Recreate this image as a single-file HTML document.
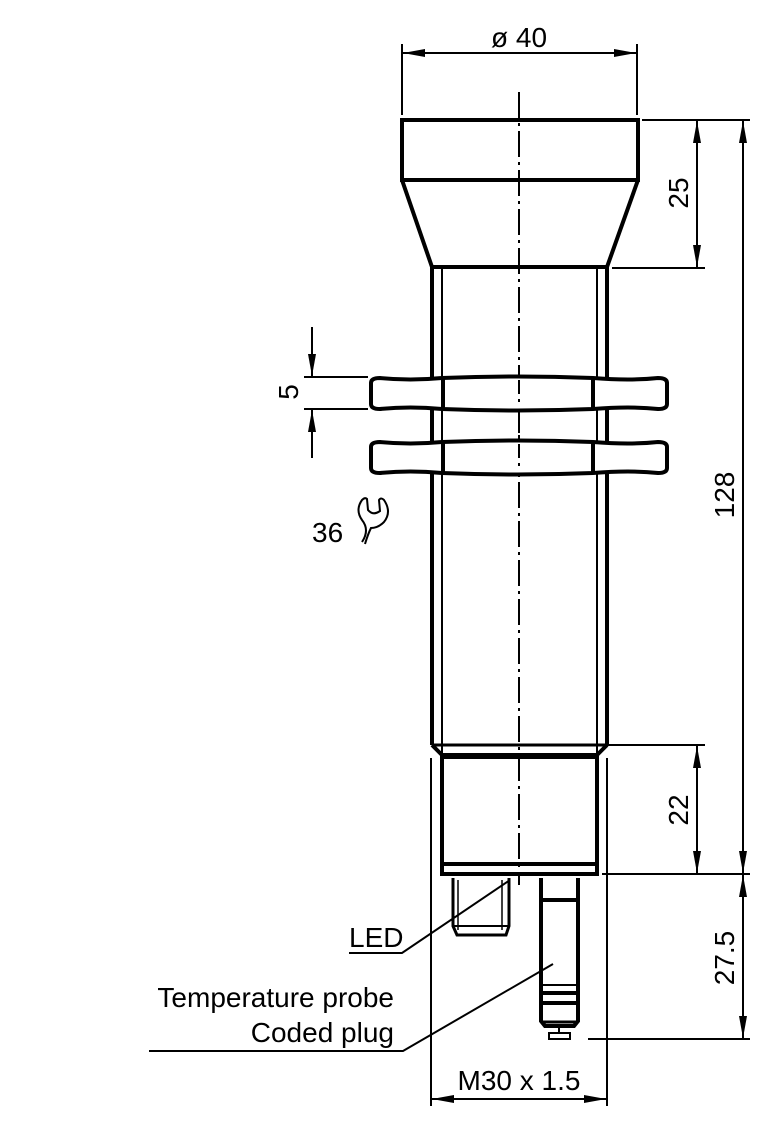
<!DOCTYPE html>
<html><head><style>html,body{margin:0;padding:0;background:#fff;}svg{display:block}text{font-family:"Liberation Sans",Arial,sans-serif;fill:#000}</style></head>
<body>
<svg width="780" height="1134" viewBox="0 0 780 1134" xmlns="http://www.w3.org/2000/svg">
<defs>
<marker id="a" viewBox="0 0 22 8" refX="22" refY="4" markerWidth="22" markerHeight="8" markerUnits="userSpaceOnUse" orient="auto-start-reverse"><path d="M0,0 L22,4 L0,8 Z" fill="#000"/></marker>
</defs>
<g stroke="#000" fill="none">
<line x1="519" y1="92" x2="519" y2="885" stroke-width="2" stroke-dasharray="26,5,3,5"/>
<rect x="402" y="120" width="236" height="60" stroke-width="4"/>
<path d="M402,180 L432,267 M638,180 L607,267" stroke-width="4"/>
<line x1="432" y1="267" x2="607" y2="267" stroke-width="4"/>
<line x1="432" y1="267" x2="432" y2="745" stroke-width="4"/>
<line x1="607" y1="267" x2="607" y2="745" stroke-width="4"/>
<line x1="442" y1="267" x2="442" y2="755" stroke-width="2"/>
<line x1="597" y1="267" x2="597" y2="755" stroke-width="2"/>
<path d="M432,745 L442,755 L597,755 L607,745" stroke-width="4"/>
<line x1="432" y1="745" x2="607" y2="745" stroke-width="3"/>
<rect x="442" y="757" width="155" height="117" stroke-width="4"/>
<line x1="442" y1="864" x2="597" y2="864" stroke-width="4"/>
<path d="M453,878 L453,926 L457,935 L506,935 L509,926 L509,878" stroke-width="3"/>
<line x1="458" y1="880" x2="458" y2="930" stroke-width="1.5"/>
<line x1="502" y1="880" x2="502" y2="930" stroke-width="1.5"/>
<line x1="454" y1="926" x2="508" y2="926" stroke-width="2"/>
<path d="M541,878 L541,1021 L545,1026 L574,1026 L578,1021 L578,878" stroke-width="4"/>
<line x1="541" y1="900" x2="578" y2="900" stroke-width="4"/>
<line x1="541" y1="985" x2="578" y2="985" stroke-width="2"/>
<line x1="541" y1="993" x2="578" y2="993" stroke-width="4"/>
<line x1="541" y1="1003" x2="578" y2="1003" stroke-width="4"/>
<line x1="541" y1="1022" x2="578" y2="1022" stroke-width="3"/>
<line x1="559" y1="1027" x2="559" y2="1033" stroke-width="2"/>
<rect x="549" y="1033" width="21" height="6" stroke-width="2"/>
<g stroke-width="4" fill="#fff">
<path d="M371,383 Q371,378 380,378 Q410,381 442,378 Q517,375 593,378 Q630,381 658,378 Q667,378 667,383 L667,404 Q667,409 658,409 Q630,406 593,409 Q517,412 442,409 Q410,406 380,409 Q371,409 371,404 Z"/>
<path d="M371,447 Q371,442 380,442 Q410,445 442,442 Q517,439 593,442 Q630,445 658,442 Q667,442 667,447 L667,468 Q667,473 658,473 Q630,470 593,473 Q517,476 442,473 Q410,470 380,473 Q371,473 371,468 Z"/>
</g>
<line x1="443" y1="378" x2="443" y2="409" stroke-width="4"/>
<line x1="593" y1="378" x2="593" y2="409" stroke-width="4"/>
<line x1="443" y1="442" x2="443" y2="473" stroke-width="4"/>
<line x1="593" y1="442" x2="593" y2="473" stroke-width="4"/>
<line x1="519" y1="380" x2="519" y2="407" stroke-width="2" stroke-dasharray="14,5,3,5"/>
<line x1="519" y1="444" x2="519" y2="471" stroke-width="2" stroke-dasharray="14,5,3,5"/>
<line x1="432" y1="409" x2="432" y2="442" stroke-width="4"/>
<line x1="607" y1="409" x2="607" y2="442" stroke-width="4"/>
<line x1="442" y1="409" x2="442" y2="442" stroke-width="2"/>
<line x1="597" y1="409" x2="597" y2="442" stroke-width="2"/>
<line x1="519" y1="411" x2="519" y2="440" stroke-width="2" stroke-dasharray="14,5,3,5"/>
<g stroke-width="2">
<line x1="402" y1="44" x2="402" y2="115"/>
<line x1="637" y1="44" x2="637" y2="115"/>
<line x1="403" y1="53" x2="636" y2="53" marker-start="url(#a)" marker-end="url(#a)"/>
<line x1="642" y1="120" x2="750" y2="120"/>
<line x1="612" y1="268" x2="705" y2="268"/>
<line x1="602" y1="745" x2="705" y2="745"/>
<line x1="602" y1="874" x2="750" y2="874"/>
<line x1="588" y1="1039" x2="750" y2="1039"/>
<line x1="697" y1="121" x2="697" y2="267" marker-start="url(#a)" marker-end="url(#a)"/>
<line x1="743" y1="121" x2="743" y2="873" marker-start="url(#a)" marker-end="url(#a)"/>
<line x1="697" y1="746" x2="697" y2="873" marker-start="url(#a)" marker-end="url(#a)"/>
<line x1="743" y1="875" x2="743" y2="1038" marker-start="url(#a)" marker-end="url(#a)"/>
<line x1="304" y1="377" x2="368" y2="377"/>
<line x1="304" y1="409" x2="368" y2="409"/>
<line x1="312" y1="327" x2="312" y2="376" marker-end="url(#a)"/>
<line x1="312" y1="458" x2="312" y2="410" marker-end="url(#a)"/>
<line x1="431" y1="758" x2="431" y2="1106"/>
<line x1="607" y1="758" x2="607" y2="1106"/>
<line x1="432" y1="1099" x2="606" y2="1099" marker-start="url(#a)" marker-end="url(#a)"/>
<polyline points="349,953 402,953 510,880"/>
<polyline points="149,1051 403,1051 553,964"/>
</g>
<path d="M362,542 Q370,530 362,520 Q355,510 362,500 Q365,497 367,499 L368,510 Q373,516 380,511 L379,500 Q381,497 384,500 Q392,512 384,522 Q378,528 371,528 Q368,534 365,544" stroke-width="2"/>
</g>
<g font-size="28">
<text x="519" y="47" text-anchor="middle">ø 40</text>
<text x="349" y="947">LED</text>
<text x="394" y="1007" text-anchor="end">Temperature probe</text>
<text x="394" y="1042" text-anchor="end">Coded plug</text>
<text x="519" y="1090" text-anchor="middle">M30 x 1.5</text>
<text x="312" y="542">36</text>
<text transform="translate(688,193) rotate(-90)" text-anchor="middle">25</text>
<text transform="translate(734,495) rotate(-90)" text-anchor="middle">128</text>
<text transform="translate(688,810) rotate(-90)" text-anchor="middle">22</text>
<text transform="translate(734,958) rotate(-90)" text-anchor="middle">27.5</text>
<text transform="translate(298,392) rotate(-90)" text-anchor="middle">5</text>
</g>
</svg>
</body></html>
